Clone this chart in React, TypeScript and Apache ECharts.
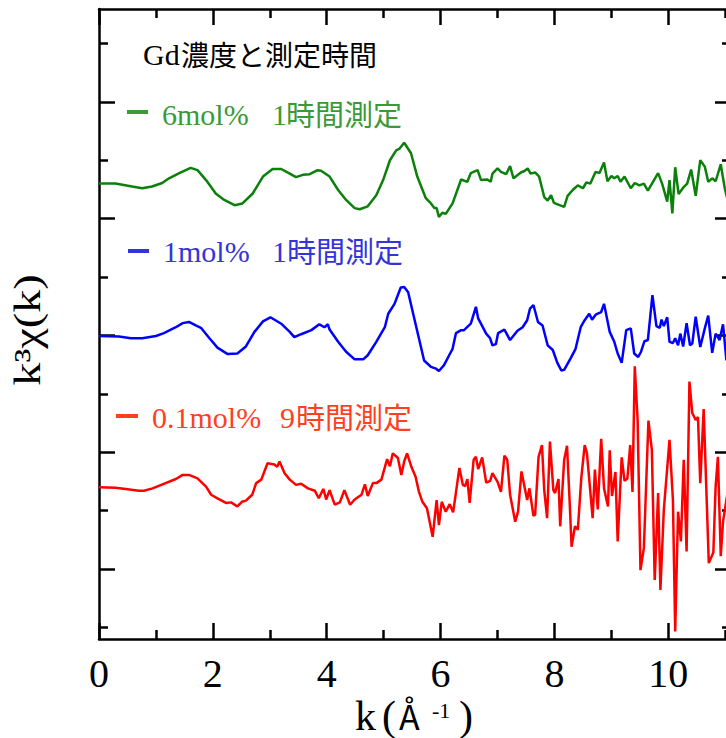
import React, { useEffect, useRef } from "react";
import * as echarts from "echarts";

// k (Å^-1) vs k^3 chi(k) traces, each relative to its own baseline
const greenTrace: number[][] = [
  [0.0, 0.0], [0.29, 0.0], [0.58, -0.05], [0.76, -0.08], [0.93, -0.05], [1.11, 0.01], [1.23, 0.09], [1.41, 0.18],
  [1.61, 0.27], [1.73, 0.23], [1.88, 0.06], [2.05, -0.17], [2.2, -0.28], [2.38, -0.37], [2.52, -0.34], [2.7, -0.17],
  [2.88, 0.12], [3.05, 0.25], [3.2, 0.25], [3.35, 0.17], [3.46, 0.11], [3.58, 0.15], [3.7, 0.16], [3.84, 0.23],
  [3.9, 0.22], [4.05, 0.12], [4.2, -0.11], [4.34, -0.28], [4.49, -0.42], [4.58, -0.44], [4.72, -0.39], [4.87, -0.2],
  [4.99, 0.06], [5.11, 0.4], [5.22, 0.57], [5.28, 0.6], [5.36, 0.7], [5.48, 0.52], [5.59, 0.12], [5.74, -0.25],
  [5.83, -0.34], [5.89, -0.42], [5.93, -0.42], [5.97, -0.57], [6.03, -0.5], [6.09, -0.52], [6.21, -0.34], [6.36, 0.07],
  [6.47, 0.03], [6.53, 0.18], [6.65, 0.23], [6.71, 0.06], [6.82, 0.07], [6.88, 0.03], [6.91, 0.17], [7.0, 0.26],
  [7.06, 0.2], [7.15, 0.16], [7.22, 0.3], [7.28, 0.09], [7.41, 0.19], [7.48, 0.22], [7.53, 0.26], [7.58, 0.17],
  [7.66, 0.19], [7.73, 0.12], [7.82, -0.23], [7.88, -0.29], [7.94, -0.2], [7.99, -0.33], [8.09, -0.37], [8.17, -0.4],
  [8.23, -0.21], [8.32, -0.11], [8.41, -0.03], [8.5, -0.08], [8.56, 0.02], [8.63, 0.0], [8.72, 0.2], [8.79, 0.18],
  [8.87, 0.36], [8.93, 0.04], [9.0, 0.13], [9.05, 0.09], [9.11, 0.13], [9.16, 0.03], [9.23, 0.12], [9.34, -0.08],
  [9.41, 0.01], [9.49, -0.03], [9.57, 0.0], [9.64, -0.12], [9.73, 0.03], [9.82, 0.18], [9.89, 0.0], [9.98, -0.31],
  [10.02, 0.06], [10.07, -0.51], [10.12, 0.28], [10.18, -0.18], [10.26, -0.07], [10.33, 0.0], [10.4, 0.24], [10.48, -0.21],
  [10.56, 0.4], [10.64, 0.29], [10.7, 0.03], [10.77, 0.09], [10.83, 0.04], [10.92, 0.33], [10.99, -0.08], [11.04, -0.28],
];

const blueTrace: number[][] = [
  [0.0, 0.0], [0.35, -0.01], [0.56, -0.04], [0.76, -0.04], [1.0, 0.0], [1.14, 0.05], [1.35, 0.15], [1.47, 0.22],
  [1.58, 0.24], [1.7, 0.18], [1.79, 0.14], [1.94, -0.04], [2.08, -0.2], [2.26, -0.31], [2.43, -0.3], [2.58, -0.18],
  [2.73, 0.07], [2.88, 0.25], [3.01, 0.32], [3.2, 0.21], [3.35, 0.07], [3.43, -0.02], [3.55, 0.03], [3.73, 0.1],
  [3.87, 0.2], [3.96, 0.15], [4.02, 0.2], [4.05, 0.11], [4.2, -0.1], [4.34, -0.27], [4.49, -0.4], [4.64, -0.4],
  [4.72, -0.33], [4.87, -0.1], [5.02, 0.15], [5.08, 0.38], [5.19, 0.55], [5.3, 0.83], [5.36, 0.84], [5.43, 0.75],
  [5.53, 0.33], [5.71, -0.42], [5.83, -0.53], [5.92, -0.56], [5.97, -0.6], [6.06, -0.5], [6.15, -0.33], [6.21, -0.22],
  [6.27, 0.05], [6.36, 0.1], [6.41, 0.1], [6.53, 0.21], [6.62, 0.5], [6.66, 0.3], [6.8, 0.04], [6.87, -0.04],
  [6.91, -0.16], [6.97, -0.14], [7.01, 0.05], [7.12, 0.11], [7.22, -0.07], [7.35, 0.09], [7.44, 0.15], [7.52, 0.27],
  [7.57, 0.47], [7.63, 0.53], [7.71, 0.24], [7.79, 0.18], [7.88, -0.16], [7.97, -0.24], [8.05, -0.46], [8.12, -0.59],
  [8.17, -0.58], [8.29, -0.37], [8.37, -0.22], [8.46, 0.15], [8.53, 0.27], [8.61, 0.38], [8.66, 0.28], [8.73, 0.37],
  [8.82, 0.41], [8.87, 0.55], [8.97, 0.07], [9.05, -0.1], [9.11, -0.3], [9.18, -0.46], [9.26, 0.1], [9.34, 0.13],
  [9.4, -0.3], [9.47, -0.36], [9.52, -0.27], [9.58, -0.09], [9.64, -0.07], [9.72, 0.7], [9.79, 0.17], [9.85, 0.14],
  [9.88, 0.28], [9.92, 0.17], [9.98, 0.32], [10.02, -0.1], [10.08, -0.12], [10.12, -0.04], [10.17, -0.16], [10.21, 0.04],
  [10.26, -0.18], [10.32, 0.22], [10.38, -0.16], [10.42, -0.13], [10.48, 0.33], [10.56, -0.19], [10.64, 0.13], [10.7, 0.35],
  [10.77, -0.29], [10.83, 0.04], [10.9, -0.07], [10.96, 0.2], [11.02, -0.42],
];

const redTrace: number[][] = [
  [0.0, 0.0], [0.29, -0.01], [0.47, -0.03], [0.7, -0.06], [0.79, -0.06], [0.94, -0.02], [1.17, 0.07], [1.35, 0.14],
  [1.47, 0.21], [1.58, 0.21], [1.73, 0.15], [1.88, 0.01], [1.97, -0.13], [2.08, -0.19], [2.23, -0.27], [2.32, -0.26],
  [2.43, -0.33], [2.51, -0.25], [2.58, -0.23], [2.69, -0.13], [2.76, 0.07], [2.85, 0.13], [2.96, 0.41], [3.08, 0.39],
  [3.13, 0.35], [3.17, 0.44], [3.26, 0.24], [3.35, 0.13], [3.46, 0.04], [3.55, 0.06], [3.67, -0.02], [3.79, -0.06],
  [3.86, -0.19], [3.94, -0.03], [3.99, -0.21], [4.05, -0.05], [4.14, -0.3], [4.23, -0.26], [4.31, -0.05], [4.41, -0.3],
  [4.49, -0.21], [4.61, -0.13], [4.67, 0.05], [4.72, -0.15], [4.81, 0.07], [4.87, 0.07], [4.96, 0.13], [5.06, 0.48],
  [5.11, 0.36], [5.16, 0.58], [5.25, 0.5], [5.31, 0.21], [5.36, 0.44], [5.41, 0.58], [5.49, 0.34], [5.56, 0.18],
  [5.62, -0.08], [5.68, -0.25], [5.76, -0.36], [5.86, -0.85], [5.93, -0.22], [5.97, -0.65], [6.02, -0.25], [6.09, -0.42],
  [6.16, -0.29], [6.22, -0.43], [6.33, 0.33], [6.39, 0.04], [6.43, 0.02], [6.47, 0.14], [6.51, -0.27], [6.58, 0.47],
  [6.62, 0.52], [6.66, 0.31], [6.73, 0.51], [6.8, 0.08], [6.87, 0.11], [6.91, 0.24], [7.0, 0.09], [7.06, -0.08],
  [7.12, 0.54], [7.17, 0.47], [7.22, -0.13], [7.31, -0.59], [7.36, -0.42], [7.42, 0.27], [7.52, -0.22], [7.56, -0.02],
  [7.63, -0.49], [7.66, -0.47], [7.72, 0.52], [7.78, 0.72], [7.82, -0.05], [7.87, -0.53], [7.92, 0.78], [7.98, -0.05],
  [8.01, -0.1], [8.07, 0.14], [8.1, -0.67], [8.17, 0.47], [8.22, 0.71], [8.27, -0.33], [8.3, -1.02], [8.36, -0.67],
  [8.41, -0.73], [8.47, 0.15], [8.53, 0.72], [8.57, 0.58], [8.67, -0.53], [8.71, 0.3], [8.76, -0.38], [8.82, 0.83],
  [8.87, -0.02], [8.94, -0.33], [8.97, 0.63], [9.01, -0.15], [9.07, 0.26], [9.11, -0.93], [9.18, 0.51], [9.23, 0.11],
  [9.28, 0.15], [9.33, 0.72], [9.37, -0.08], [9.41, 2.07], [9.46, 1.15], [9.51, -1.42], [9.57, -1.04], [9.65, 1.14],
  [9.71, 0.64], [9.76, -1.59], [9.82, -0.1], [9.86, -1.76], [9.92, -0.39], [10.02, 0.81], [10.08, -0.22], [10.12, -2.47],
  [10.17, -0.42], [10.22, -0.93], [10.27, 0.47], [10.32, -1.1], [10.37, 1.81], [10.42, 1.27], [10.48, 1.15], [10.52, 1.2],
  [10.56, 0.07], [10.62, 1.34], [10.71, -1.3], [10.79, -1.12], [10.83, 0.01], [10.87, 0.52], [10.92, -1.18], [10.96, -0.59],
  [11.04, -0.09],
];

// vertical offsets of each trace
const greenOffset = 7.8;
const blueOffset = 5.19;
const redOffset = 2.6;

// axis ticks
const xLabelValues = [0, 2, 4, 6, 8, 10];
const xMajorTicks = [0, 2, 4, 6, 8, 10];
const xMinorTicks = [1, 3, 5, 7, 9, 11];
const yMajorTicks = [1.2, 3.2, 5.2, 7.2, 9.2];
const yMinorTicks = [0.2, 2.2, 4.2, 6.2, 8.2, 10.2];

const titleText = ["Gd", "濃度と測定時間"];
const legendGreen = ["6mol%", "1", "時間測定"];
const legendBlue = ["1mol%", "1", "時間測定"];
const legendRed = ["0.1mol%", "9", "時間測定"];

const SERIF = '"Liberation Serif", "Times New Roman", serif';
const CJK = '"Noto Sans CJK JP", "Noto Sans", sans-serif';

export default function App() {
  const ref = useRef<HTMLDivElement>(null);
  useEffect(() => {
    if (!ref.current) return;
    const chart = echarts.init(ref.current, undefined, { renderer: "svg" });

    const XMIN = 0, XMAX = 11.1, YMIN = 0, YMAX = 10.79;
    const lineC = "#000";
    const mkX = (pos: "top" | "bottom", ticks: number[], len: number, line: boolean, labels: boolean) => ({
      type: "value",
      position: pos,
      min: XMIN,
      max: XMAX,
      axisLine: { show: line, onZero: false, lineStyle: { color: lineC, width: 2.5 } },
      axisTick: { show: true, inside: true, length: len, customValues: ticks, lineStyle: { color: lineC, width: 2.5 } },
      axisLabel: labels
        ? { show: true, customValues: xLabelValues, margin: 14, fontSize: 40, fontFamily: SERIF, color: "#000" }
        : { show: false },
      splitLine: { show: false },
    });
    const mkY = (pos: "left" | "right", ticks: number[], len: number, line: boolean) => ({
      type: "value",
      position: pos,
      min: YMIN,
      max: YMAX,
      axisLine: { show: line, onZero: false, lineStyle: { color: lineC, width: 2.5 } },
      axisTick: { show: true, inside: true, length: len, customValues: ticks, lineStyle: { color: lineC, width: 2.5 } },
      axisLabel: { show: false },
      splitLine: { show: false },
    });

    const mkSeries = (trace: number[][], off: number, color: string) => ({
      type: "line",
      xAxisIndex: 0,
      yAxisIndex: 0,
      data: trace.map((p) => [p[0], p[1] + off]),
      showSymbol: false,
      symbol: "none",
      lineStyle: { color, width: 2.5 },
      itemStyle: { color },
      clip: true,
    });

    const txt = (x: number, y: number, text: string, size: number, family: string, fill: string) => ({
      type: "text",
      x,
      y,
      style: { text, fill, fontSize: size, fontFamily: family, align: "left", verticalAlign: "middle" },
    });
    const dash = (x: number, y: number, w: number, fill: string) => ({
      type: "rect",
      shape: { x, y: y - 2, width: w, height: 4 },
      style: { fill },
    });

    const gT = "#3a9a36", bT = "#3434dc", rT = "#ff4020";

    chart.setOption({
      animation: false,
      backgroundColor: "#fff",
      grid: { left: 99, right: 9, top: 9, bottom: 99, containLabel: false },
      xAxis: [
        mkX("bottom", xMajorTicks, 16, true, true),
        mkX("bottom", xMinorTicks, 9, false, false),
        mkX("top", xMajorTicks, 16, true, false),
        mkX("top", xMinorTicks, 9, false, false),
      ],
      yAxis: [
        mkY("left", yMajorTicks, 16, true),
        mkY("left", yMinorTicks, 9, false),
        mkY("right", yMajorTicks, 16, true),
        mkY("right", yMinorTicks, 9, false),
      ],
      series: [
        mkSeries(greenTrace, greenOffset, "#0b800b"),
        mkSeries(blueTrace, blueOffset, "#0000ff"),
        mkSeries(redTrace, redOffset, "#ff0000"),
      ],
      graphic: [
        txt(143, 54, titleText[0], 30, SERIF, "#000"),
        txt(181, 54, titleText[1], 28, CJK, "#000"),

        dash(127, 112, 21, gT),
        txt(162, 114, legendGreen[0], 30, SERIF, gT),
        txt(272, 114, legendGreen[1], 30, SERIF, gT),
        txt(286, 113, legendGreen[2], 29, CJK, gT),

        dash(128, 251, 21, bT),
        txt(163, 251, legendBlue[0], 30, SERIF, bT),
        txt(272, 251, legendBlue[1], 30, SERIF, bT),
        txt(287, 250, legendBlue[2], 29, CJK, bT),

        dash(116, 416, 22, rT),
        txt(152, 417, legendRed[0], 30, SERIF, rT),
        txt(280, 417, legendRed[1], 30, SERIF, rT),
        txt(296, 416, legendRed[2], 29, CJK, rT),

        // x axis title
        txt(355, 716, "k", 42, SERIF, "#000"),
        txt(382, 716, "(", 42, SERIF, "#000"),
        txt(399, 715, "Å", 34, CJK, "#000"),
        txt(432, 710, "-1", 22, SERIF, "#000"),
        txt(459, 716, ")", 42, SERIF, "#000"),

        // y axis title
        {
          type: "text",
          x: 28,
          y: 330,
          rotation: Math.PI / 2,
          scaleX: 1.25,
          style: { text: "k³χ(k)", fill: "#000", fontSize: 37, fontFamily: SERIF, align: "center", verticalAlign: "middle" },
        },
      ],
    });
    return () => chart.dispose();
  }, []);
  return <div ref={ref} style={{ position: "fixed", left: 0, top: 0, width: 740, height: 738 }} />;
}
